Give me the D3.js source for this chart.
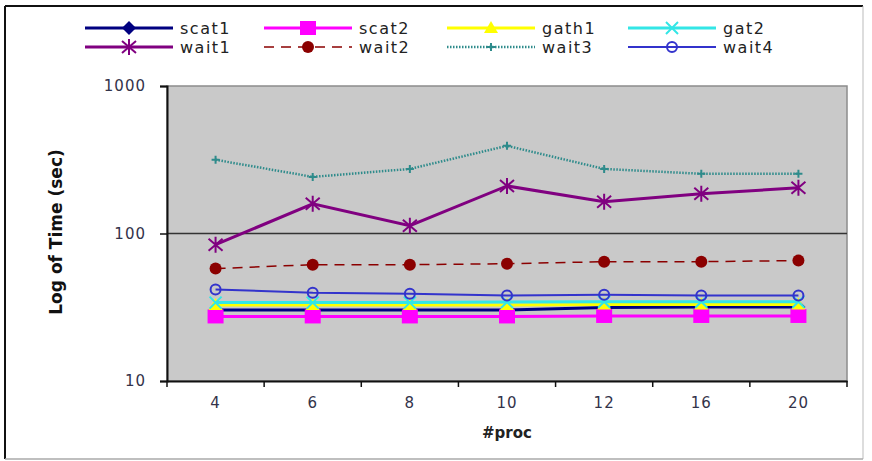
<!DOCTYPE html>
<html>
<head>
    <script type="text/javascript" src="https://d3js.org/d3.v7.min.js"></script>
    <style>
        body { margin: 0; background: #ffffff; }
        text { font-family: "DejaVu Sans", Verdana, sans-serif; }
    </style>
</head>
<body>
    <svg width="872" height="461"></svg>

    <script>
        // categories (#proc) and the series
        const procs = ["4", "6", "8", "10", "12", "16", "20"];
        const scat1 = [30.3, 30.3, 30.3, 30.3, 31.5, 31.8, 31.8];
        const scat2 = [27.4, 27.4, 27.4, 27.4, 27.6, 27.6, 27.6];
        const gath1 = [32.8, 32.8, 32.8, 32.8, 33.0, 33.0, 33.0];
        const gat2  = [34.0, 34.0, 34.0, 34.3, 34.5, 34.5, 34.5];
        const wait1 = [84, 159, 113, 210, 164, 186, 204];
        const wait2 = [57.8, 61.5, 61.5, 62.4, 64.4, 64.4, 65.5];
        const wait3 = [316, 242, 274, 393, 274, 254, 254];
        const wait4 = [41.7, 39.7, 39.1, 38.0, 38.5, 38.0, 38.0];
        const yTicks = [10, 100, 1000];

        const series = [
            { name: "scat1", values: scat1, color: "#000080", width: 3, dash: null, marker: "diamond" },
            { name: "scat2", values: scat2, color: "#ff00ff", width: 3, dash: null, marker: "square" },
            { name: "gath1", values: gath1, color: "#ffff00", width: 3, dash: null, marker: "triangle" },
            { name: "gat2",  values: gat2,  color: "#33e6e6", width: 3, dash: null, marker: "x" },
            { name: "wait1", values: wait1, color: "#800080", width: 3, dash: null, marker: "star" },
            { name: "wait2", values: wait2, color: "#8b0000", width: 1.5, dash: "10,7", marker: "dot" },
            { name: "wait3", values: wait3, color: "#2e8b8b", width: 2.5, dash: "1.5,1.5", marker: "plus" },
            { name: "wait4", values: wait4, color: "#3333cc", width: 2, dash: null, marker: "ring" }
        ];

        const svg = d3.select("svg");

        // outer frame
        svg.append("line").attr("x1", 5).attr("x2", 863).attr("y1", 6).attr("y2", 6)
            .attr("stroke", "#111").attr("stroke-width", 2);
        svg.append("line").attr("x1", 5).attr("x2", 5).attr("y1", 6).attr("y2", 459)
            .attr("stroke", "#111").attr("stroke-width", 2);
        svg.append("line").attr("x1", 863).attr("x2", 863).attr("y1", 6).attr("y2", 459)
            .attr("stroke", "#bbb").attr("stroke-width", 1);
        svg.append("line").attr("x1", 5).attr("x2", 863).attr("y1", 459).attr("y2", 459)
            .attr("stroke", "#aaa").attr("stroke-width", 1.5);

        const plotL = 167, plotR = 847, plotT = 86, plotB = 381;

        let x = d3.scaleBand().domain(procs).range([plotL, plotR]).padding(0);
        let y = d3.scaleLog().domain([10, 1000]).range([plotB, plotT]);

        // plot area
        svg.append("rect")
            .attr("x", plotL).attr("y", plotT)
            .attr("width", plotR - plotL).attr("height", plotB - plotT)
            .attr("fill", "#c9c9c9")
            .attr("stroke", "#8c8c8c").attr("stroke-width", 1.5);

        // gridline at 100
        svg.append("line")
            .attr("x1", plotL).attr("x2", plotR)
            .attr("y1", y(100)).attr("y2", y(100))
            .attr("stroke", "#333").attr("stroke-width", 1.5);

        // y axis
        let yAxis = d3.axisLeft(y).tickValues(yTicks).tickFormat(d3.format("d")).tickSize(7).tickPadding(14);
        let gy = svg.append("g").attr("transform", `translate(${plotL},0)`).call(yAxis);
        gy.select(".domain").attr("stroke", "#111").attr("stroke-width", 2);
        gy.selectAll(".tick line").attr("stroke", "#111").attr("stroke-width", 1.5);
        gy.selectAll(".tick text").attr("font-size", 15).attr("fill", "#33334a")
            .attr("font-family", "DejaVu Sans").attr("letter-spacing", 1);

        // x axis: ticks at band edges, labels at centres
        let xAxis = d3.axisBottom(x).tickSize(0).tickPadding(16);
        let gx = svg.append("g").attr("transform", `translate(0,${plotB})`).call(xAxis);
        gx.select(".domain").attr("stroke", "#111").attr("stroke-width", 2);
        gx.selectAll(".tick text").attr("font-size", 15).attr("fill", "#33334a")
            .attr("font-family", "DejaVu Sans").attr("letter-spacing", 1);
        let edges = procs.map(p => x(p)).concat([plotR]);
        gx.selectAll(".edge").data(edges).enter().append("line")
            .attr("x1", d => d).attr("x2", d => d)
            .attr("y1", 0).attr("y2", 6)
            .attr("stroke", "#111").attr("stroke-width", 1.5);

        // axis titles
        svg.append("text")
            .attr("x", 507).attr("y", 438)
            .attr("text-anchor", "middle")
            .attr("font-size", 15).attr("font-weight", "bold")
            .attr("fill", "#222")
            .text("#proc");
        svg.append("text")
            .attr("transform", "translate(62,232) rotate(-90)")
            .attr("text-anchor", "middle")
            .attr("font-family", "Liberation Sans")
            .attr("font-size", 17).attr("font-weight", "bold")
            .attr("fill", "#111")
            .text("Log of Time (sec)");

        // marker drawing
        function drawMarker(g, type, color, cx, cy) {
            if (type === "diamond") {
                g.append("path").attr("d", `M${cx},${cy - 7}L${cx + 7},${cy}L${cx},${cy + 7}L${cx - 7},${cy}Z`)
                    .attr("fill", color);
            } else if (type === "square") {
                g.append("rect").attr("x", cx - 8).attr("y", cy - 7)
                    .attr("width", 16).attr("height", 14).attr("fill", color);
            } else if (type === "triangle") {
                g.append("path").attr("d", `M${cx},${cy - 7}L${cx + 7},${cy + 5}L${cx - 7},${cy + 5}Z`)
                    .attr("fill", color);
            } else if (type === "x") {
                g.append("path").attr("d", `M${cx - 6},${cy - 6}L${cx + 6},${cy + 6}M${cx - 6},${cy + 6}L${cx + 6},${cy - 6}`)
                    .attr("stroke", color).attr("stroke-width", 2);
            } else if (type === "star") {
                g.append("path").attr("d", `M${cx - 7},${cy - 6}L${cx + 7},${cy + 6}M${cx - 7},${cy + 6}L${cx + 7},${cy - 6}M${cx},${cy - 8}L${cx},${cy + 8}`)
                    .attr("stroke", color).attr("stroke-width", 2);
            } else if (type === "dot") {
                g.append("circle").attr("cx", cx).attr("cy", cy).attr("r", 6).attr("fill", color);
            } else if (type === "plus") {
                g.append("path").attr("d", `M${cx - 4},${cy}L${cx + 4},${cy}M${cx},${cy - 4}L${cx},${cy + 4}`)
                    .attr("stroke", color).attr("stroke-width", 2);
            } else if (type === "ring") {
                g.append("circle").attr("cx", cx).attr("cy", cy).attr("r", 5)
                    .attr("fill", "none").attr("stroke", color).attr("stroke-width", 2);
            }
        }

        let line = d3.line()
            .x((d, i) => x(procs[i]) + x.bandwidth() / 2)
            .y(d => y(d));

        let plot = svg.append("g");
        series.forEach(s => {
            plot.append("path")
                .datum(s.values)
                .attr("d", line)
                .attr("fill", "none")
                .attr("stroke", s.color)
                .attr("stroke-width", s.width)
                .attr("stroke-dasharray", s.dash);
            s.values.forEach((v, i) => {
                drawMarker(plot, s.marker, s.color, x(procs[i]) + x.bandwidth() / 2, y(v));
            });
        });

        // legend, two rows of four
        const legCols = [85, 264, 447, 628];
        const legRows = [28, 47];
        let legend = svg.append("g");
        series.forEach((s, i) => {
            const lx = legCols[i % 4], ly = legRows[Math.floor(i / 4)];
            legend.append("line")
                .attr("x1", lx).attr("x2", lx + 88)
                .attr("y1", ly).attr("y2", ly)
                .attr("stroke", s.color)
                .attr("stroke-width", s.width)
                .attr("stroke-dasharray", s.dash);
            drawMarker(legend, s.marker, s.color, lx + 44, ly);
            legend.append("text")
                .attr("x", lx + 95).attr("y", ly + 6)
                .attr("font-size", 16).attr("letter-spacing", 1.5)
                .attr("fill", "#222")
                .text(s.name);
        });
    </script>
</body>
</html>
